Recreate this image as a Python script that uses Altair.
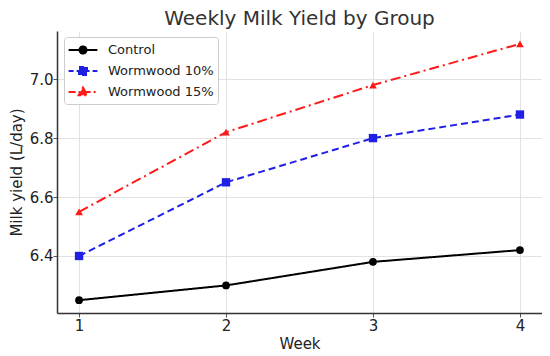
import altair as alt
import pandas as pd

weeks = [1, 2, 3, 4]
groups = ["Control", "Wormwood 10%", "Wormwood 15%"]
control = [6.25, 6.30, 6.38, 6.42]
worm10 = [6.40, 6.65, 6.80, 6.88]
worm15 = [6.55, 6.82, 6.98, 7.12]
y_ticks = [6.4, 6.6, 6.8, 7.0]

rows = []
for g, vals in zip(groups, [control, worm10, worm15]):
    for w, v in zip(weeks, vals):
        rows.append({"Week": w, "Yield": v, "Group": g})
df = pd.DataFrame(rows)

colors = ["#000000", "#1f1fe6", "#ff1a1a"]
dashes = [[1, 0], [7, 4], [10, 4, 2, 4]]
leg_dashes = [[1, 0], [5, 3], [7, 3, 2, 3]]
shapes = ["circle", "square", "triangle-up"]
sizes = [60, 70, 60]
legend_paths = [
    "M-1.8,0L1.8,0M-0.44,0A0.44,0.44 0 1,0 0.44,0A0.44,0.44 0 1,0 -0.44,0",
    "M-1.8,0L1.8,0M-0.5,-0.5H0.5V0.5H-0.5Z",
    "M-1.8,0L1.8,0M0,-0.55L0.55,0.4H-0.55Z",
]

x = alt.X("Week:Q", scale=alt.Scale(domain=[0.85, 4.15], nice=False, zero=False),
          axis=alt.Axis(values=weeks, format="d", title="Week"))
y = alt.Y("Yield:Q", scale=alt.Scale(domain=[6.2065, 7.1635], nice=False, zero=False),
          axis=alt.Axis(values=y_ticks, format=".1f", title="Milk yield (L/day)"))

layers = []
for g, c, d in zip(groups, colors, dashes):
    base = alt.Chart(df).transform_filter(alt.datum.Group == g)
    layers.append(base.mark_line(strokeWidth=2, color=c, strokeDash=d).encode(x=x, y=y))
for g, c, s, sz in zip(groups, colors, shapes, sizes):
    base = alt.Chart(df).transform_filter(alt.datum.Group == g)
    layers.append(base.mark_point(filled=True, opacity=1, size=sz, shape=s, color=c).encode(x=x, y=y))

leg = alt.Legend(title=None, orient="none", legendX=7, legendY=6, symbolOpacity=1,
                 symbolSize=256, symbolStrokeWidth=2, labelFontSize=13, labelColor="#222",
                 labelFont="DejaVu Sans", fillColor="white", strokeColor="#cccccc",
                 cornerRadius=3, padding=4, rowPadding=4, symbolOffset=6, labelOffset=16)

legend_layer = alt.Chart(df).transform_filter("false").mark_point(
    filled=True, size=256, strokeWidth=2
).encode(
    x=x, y=y,
    fill=alt.Fill("Group:N", scale=alt.Scale(domain=groups, range=colors), legend=leg),
    stroke=alt.Stroke("Group:N", scale=alt.Scale(domain=groups, range=colors), legend=leg),
    shape=alt.Shape("Group:N", scale=alt.Scale(domain=groups, range=legend_paths), legend=leg),
    strokeDash=alt.StrokeDash("Group:N", scale=alt.Scale(domain=groups, range=leg_dashes), legend=leg),
)
layers.append(legend_layer)

chart = alt.layer(*layers).properties(
    width=485, height=282,
    title=alt.TitleParams("Weekly Milk Yield by Group", fontSize=20, fontWeight="normal",
                          font="DejaVu Sans", color="#333", anchor="middle", offset=2),
    autosize=alt.AutoSizeParams(type="none"),
    padding={"left": 49, "top": 23, "right": 0, "bottom": 43},
).configure_view(stroke=None).configure_axis(
    labelFont="DejaVu Sans", titleFont="DejaVu Sans", labelFontSize=15, titleFontSize=15,
    titleFontWeight="normal", labelColor="#222", titleColor="#222",
    gridColor="#e2e2e2", gridWidth=1, domainColor="#333", domainWidth=1.5,
    tickColor="#555", tickSize=4,
).configure_axisX(labelPadding=1, titlePadding=3).configure_axisY(labelPadding=0, titlePadding=5)

chart.save("out.html", embed_options={"renderer": "svg", "actions": False})
